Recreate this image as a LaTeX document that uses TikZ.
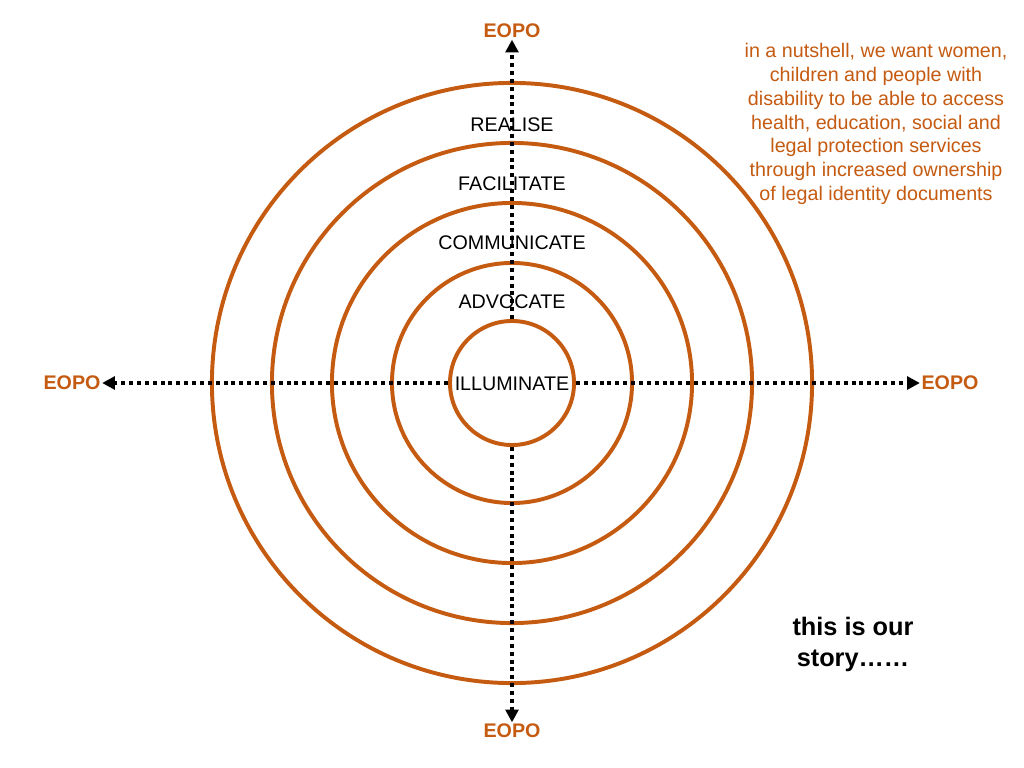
\documentclass[tikz,border=0pt]{standalone}
\usepackage{fontspec}
\setmainfont{Liberation Sans}
\usetikzlibrary{arrows.meta}
\definecolor{rust}{HTML}{C55A11}

\begin{document}
\begin{tikzpicture}[x=0.025cm, y=-0.025cm,
  ring/.style={draw=rust, line width=2.8pt, circle, inner sep=0pt},
  lvl/.style={font=\fontsize{14}{17}\selectfont, inner sep=1pt},
  eopo/.style={font=\fontsize{14}{17}\selectfont\bfseries, text=rust, inner sep=1pt},
  arr/.style={-{Triangle[length=9pt,width=9pt]}, line width=2.6pt, dash pattern=on 2.8pt off 2.8pt}
]
\fill[white] (0,0) rectangle (1024,768);
\useasboundingbox (0,0) rectangle (1024,768);

% rings, smallest first
\node[ring, minimum size=3.1cm] (ring1) at (512,383) {};
\node[ring, minimum size=6cm]   (ring2) at (512,383) {};
\node[ring, minimum size=9cm]   (ring3) at (512,383) {};
\node[ring, minimum size=12cm]  (ring4) at (512,383) {};
\node[ring, minimum size=15cm]  (ring5) at (512,383) {};

\node[lvl] (realise)  at (512,125) {REALISE};
\node[lvl] (facil)    at (512,184) {FACILITATE};
\node[lvl] (comm)     at (512,243) {COMMUNICATE};
\node[lvl] (advoc)    at (512,302) {ADVOCATE};
\node[lvl] (illum)    at (512,384) {ILLUMINATE};

\node[eopo] (eopoN) at (512,31)  {EOPO};
\node[eopo] (eopoS) at (512,731) {EOPO};
\node[eopo] (eopoW) at (72,383)  {EOPO};
\node[eopo] (eopoE) at (950,383) {EOPO};

\draw[arr] (ring1.north) -- (eopoN.south);
\draw[arr] (ring1.south) -- (eopoS.north);
\draw[arr] (ring1.west)  -- (eopoW.east);
\draw[arr] (ring1.east)  -- (eopoE.west);

\node[align=center, text=rust, font=\fontsize{14}{17}\selectfont] (nutshell) at (876,124)
  {in a nutshell, we want women,\\ children and people with\\ disability to be able to access\\
   health, education, social and\\ legal protection services\\ through increased ownership\\
   of legal identity documents};
\node[align=center, font=\fontsize{18}{22}\selectfont\bfseries] (story) at (853,644)
  {this is our\\ story……};
\end{tikzpicture}
\end{document}
